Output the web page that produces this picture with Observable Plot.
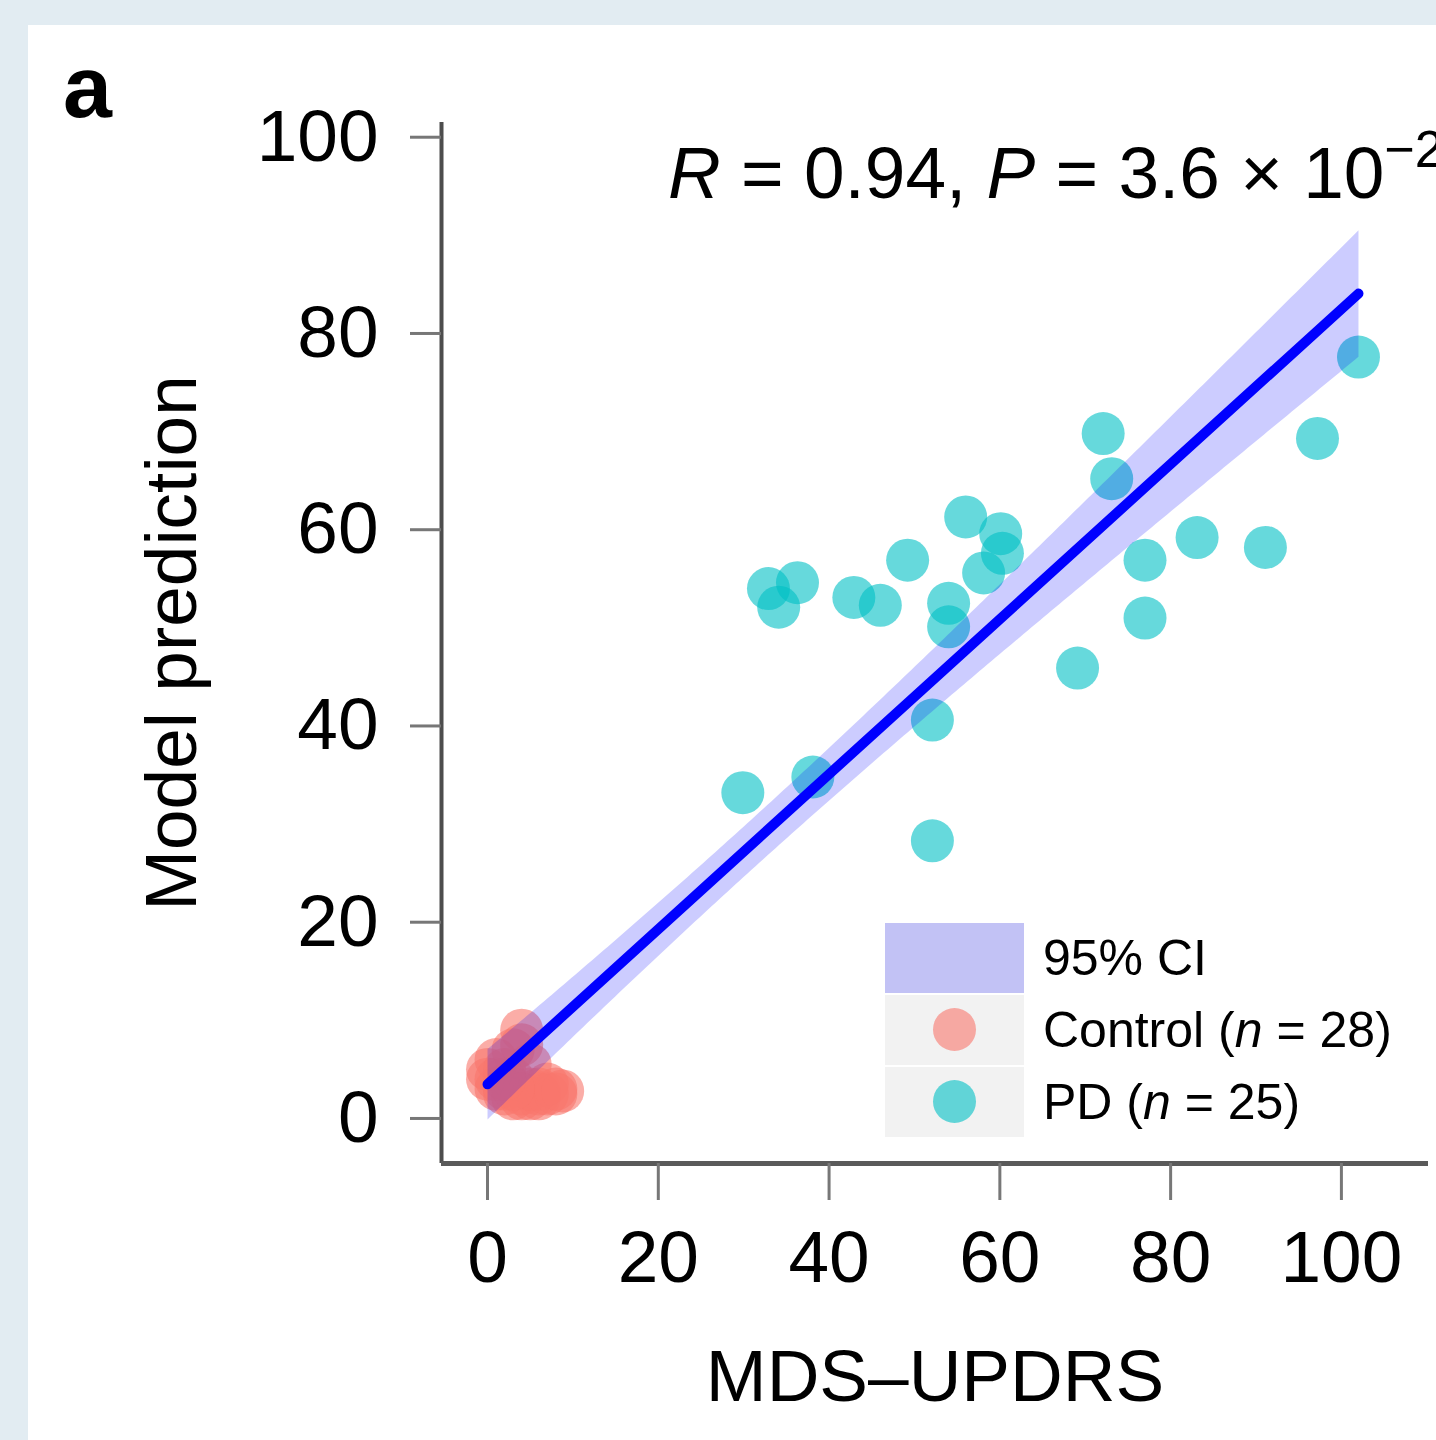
<!DOCTYPE html>
<html><head><meta charset="utf-8">
<script src="https://cdn.jsdelivr.net/npm/d3@7"></script>
<script src="https://cdn.jsdelivr.net/npm/@observablehq/plot@0.6"></script>
<style>
html,body{margin:0;padding:0;background:#e2ecf2;overflow:hidden;width:1436px;height:1440px;}
#panel{position:absolute;left:28px;top:25px;width:1408px;height:1415px;background:#fff;overflow:hidden;font-family:"Liberation Sans",Arial,Helvetica,sans-serif;color:#000;}
#chart{position:absolute;left:0;top:0;}
#tag{position:absolute;left:35px;top:18px;font-size:88px;font-weight:bold;line-height:1;}
#stat{position:absolute;left:640px;top:111px;font-size:73px;line-height:1;white-space:nowrap;}
#stat .sup{font-size:52px;position:relative;top:-31px;}
#legend{position:absolute;left:857px;top:898px;}
.row{display:flex;align-items:center;height:70px;margin-bottom:2px;}
.key{width:139px;height:70px;background:#f2f2f2;position:relative;}
.key.ci{background:#c2c2f5;}
.key .pt{position:absolute;left:48px;top:13px;width:43px;height:43px;border-radius:50%;}
.lab{margin-left:19px;font-size:50px;line-height:70px;white-space:nowrap;}
</style></head><body>
<div id="panel">
<div id="chart"></div>
<div id="tag">a</div>
<div id="stat"><i>R</i> = 0.94, <i>P</i> = 3.6 × 10<span class="sup">−2</span></div>
<div id="legend"></div>
</div>
<script>
// Control group (n = 28)
const controlX = [0, 0, 1, 1, 1, 2, 2, 2, 3, 3, 3, 4, 4, 4, 4, 5, 5, 5, 6, 6, 6, 7, 7, 8, 8, 8.8, 3, 2];
const controlY = [4, 5, 3, 4, 6, 2.5, 3, 5, 2, 4, 7, 9, 7.5, 2.5, 2, 3, 2, 5.5, 2.5, 3, 2, 2.5, 3.5, 2.5, 3, 2.8, 3, 4];
// PD group (n = 25)
const pdX = [29.9, 38.1, 32.9, 36.3, 34.1, 42.9, 46.0, 49.2, 56.0, 60.1, 60.3, 58.1, 54.0, 54.0, 52.1, 52.1, 69.1, 72.1, 73.1, 77.0, 77.0, 83.1, 91.1, 97.2, 102.0];
const pdY = [33.2, 34.8, 54.0, 54.6, 52.1, 53.1, 52.3, 56.9, 61.3, 59.6, 57.6, 55.6, 52.5, 50.1, 40.6, 28.3, 45.9, 69.8, 65.2, 56.9, 51.0, 59.2, 58.2, 69.3, 77.6];
const groups = ["Control", "PD"];
const groupLabels = ["Control (<i>n</i> = 28)", "PD (<i>n</i> = 25)"];
const groupColors = ["#f8766d", "#00bfc4"];
const xTicks = [0, 20, 40, 60, 80, 100];
const yTicks = [0, 20, 40, 60, 80, 100];
const xDomain = [-5.39, 110.2];
const yDomain = [-4.59, 101.5];

const data = [
  ...controlX.map((x, i) => ({x, y: controlY[i], group: groups[0]})),
  ...pdX.map((x, i) => ({x, y: pdY[i], group: groups[1]}))
];

const font = "Liberation Sans, Arial, Helvetica, sans-serif";
const chart = Plot.plot({
  width: 1408, height: 1415,
  marginLeft: 413, marginRight: 8, marginTop: 97, marginBottom: 277,
  style: {fontFamily: font, background: "transparent", color: "#000"},
  x: {domain: xDomain},
  y: {domain: yDomain},
  color: {domain: groups, range: groupColors},
  marks: [
    Plot.dot(data, {x: "x", y: "y", fill: "group", fillOpacity: 0.6, r: 21.5}),
    Plot.linearRegressionY(data, {x: "x", y: "y", stroke: "#0000ff", strokeWidth: 10, fill: "#0000ff", fillOpacity: 0.2, ci: 0.95}),
    Plot.ruleX([xDomain[0]], {stroke: "#4d4d4d", strokeWidth: 4}),
    Plot.ruleY([yDomain[0]], {stroke: "#5a5a5a", strokeWidth: 5}),
    Plot.axisX(xTicks, {tickSize: 37, tickPadding: 30, fontSize: 73, stroke: "#777", strokeWidth: 3, fill: "#000", label: null, tickFormat: d => String(d)}),
    Plot.axisY(yTicks, {tickSize: 31, tickPadding: 32, fontSize: 73, stroke: "#777", strokeWidth: 3, fill: "#000", label: null, tickFormat: d => String(d)}),
    Plot.text(["Model prediction"], {text: d => d, frameAnchor: "left", dx: -269, rotate: -90, fontSize: 73, textAnchor: "middle", lineAnchor: "middle", fill: "#000"}),
    Plot.text(["MDS–UPDRS"], {text: d => d, frameAnchor: "bottom", dy: 214, fontSize: 73, lineAnchor: "middle", fill: "#000"})
  ]
});
document.getElementById("chart").appendChild(chart);

// legend
const legend = document.getElementById("legend");
legend.innerHTML =
  `<div class="row"><div class="key ci"></div><div class="lab">95% CI</div></div>` +
  groups.map((g, i) =>
    `<div class="row"><div class="key"><div class="pt" style="background:${groupColors[i]};opacity:0.6"></div></div><div class="lab">${groupLabels[i]}</div></div>`
  ).join("");
</script>
</body></html>
